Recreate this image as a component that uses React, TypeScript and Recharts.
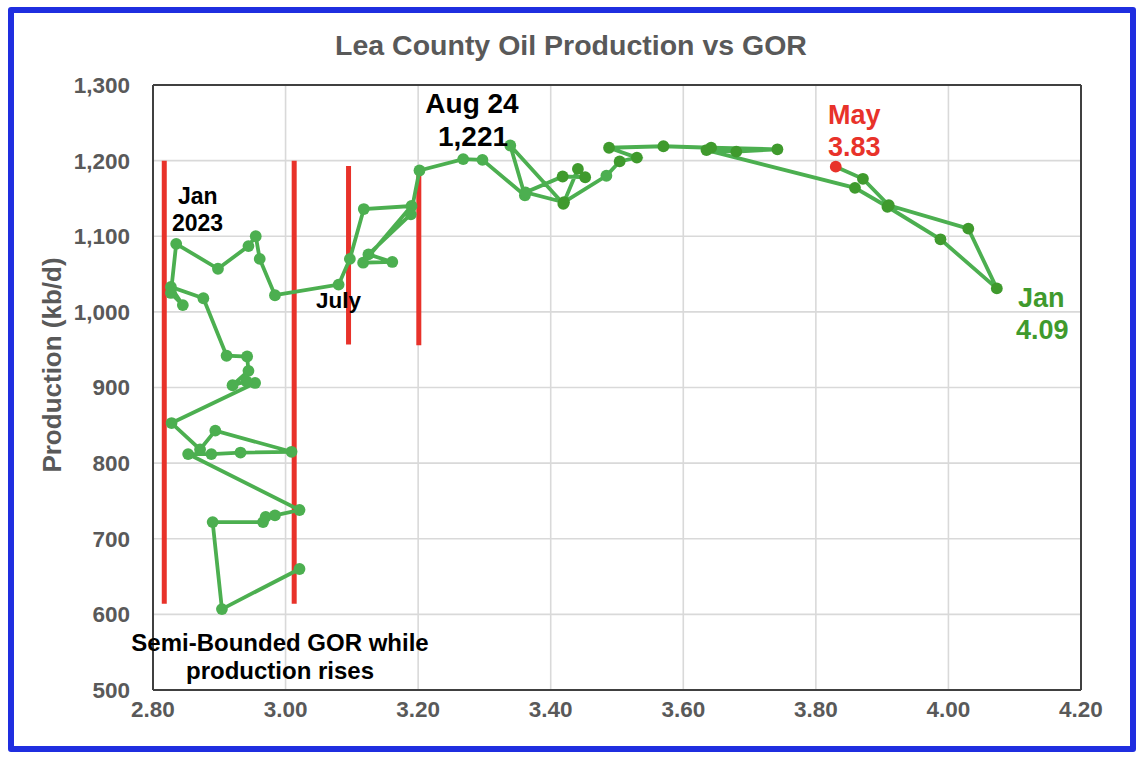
import React from 'react';
import { ComposedChart, Scatter, XAxis, YAxis, CartesianGrid, ReferenceLine } from 'recharts';

// GOR (x) and oil production kb/d (y), in the order the line connects them
const gor = [
  3.021, 2.904, 2.890, 2.966, 2.970, 2.984, 3.021, 2.853, 2.888, 2.932,
  3.009, 2.894, 2.871, 2.828, 2.954, 2.941, 2.920, 2.944, 2.942, 2.911,
  2.876, 2.827, 2.845, 2.827, 2.835, 2.898, 2.944, 2.955, 2.961, 2.984,
  3.080, 3.097, 3.118, 3.190, 3.117, 3.161, 3.125, 3.189, 3.202, 3.268,
  3.297, 3.361, 3.339, 3.419, 3.441, 3.452, 3.418, 3.362, 3.420, 3.484,
  3.504, 3.530, 3.488, 3.570, 3.642, 3.742, 3.680, 3.635, 3.859, 3.908,
  3.988, 4.073, 4.030, 3.910, 3.871, 3.830,
];
const production = [
  660, 607, 722, 722, 729, 731, 738, 812, 812, 814,
  815, 843, 818, 853, 906, 908, 903, 922, 941, 942,
  1018, 1033, 1009, 1025, 1090, 1057, 1087, 1100, 1070, 1022,
  1036, 1070, 1136, 1140, 1065, 1066, 1076, 1129, 1187, 1202,
  1201, 1154, 1220, 1143, 1189, 1178, 1179, 1158, 1145, 1180,
  1199, 1204, 1217, 1219, 1217, 1215, 1212, 1214, 1164, 1139,
  1096, 1031, 1110, 1141, 1176, 1192,
];
// marker group: 0 = earlier months, 1 = recent months, 2 = latest month
const markerGroup = [
  0, 0, 0, 0, 0, 0, 0, 0, 0, 0,
  0, 0, 0, 0, 0, 0, 0, 0, 0, 0,
  0, 0, 0, 0, 0, 0, 0, 0, 0, 0,
  0, 0, 0, 0, 0, 0, 0, 0, 0, 0,
  0, 0, 0, 1, 1, 1, 1, 0, 1, 0,
  1, 1, 1, 1, 1, 1, 1, 1, 1, 1,
  1, 1, 1, 1, 1, 2,
];

const xTicks = [2.8, 3.0, 3.2, 3.4, 3.6, 3.8, 4.0, 4.2];
const yTicks = [500, 600, 700, 800, 900, 1000, 1100, 1200, 1300];

// red "bound" markers
const boundX = [2.817, 3.013, 3.095, 3.201];
const boundTop = [1200, 1200, 1193, 1189];
const boundBottom = [614, 614, 957, 956];

const data = gor.map((x, i) => ({ gor: x, prod: production[i], group: markerGroup[i] }));

const FONT = '"Liberation Sans", Arial, Helvetica, sans-serif';
const LINE_GREEN = '#4caf50';
const DARK_GREEN = '#3f9a2d';
const RED = '#e8322a';
const GRAY = '#595959';
const groupColor = [LINE_GREEN, DARK_GREEN, RED];

const Dot = (props: any) => {
  const { cx, cy, payload } = props;
  if (cx == null || cy == null) return null;
  return <circle cx={cx} cy={cy} r={5.9} fill={groupColor[payload.group]} />;
};

export default function App() {
  const tickStyle = { fill: GRAY, fontSize: 22.5, fontWeight: 700, fontFamily: FONT };
  return (
    <div style={{ position: 'absolute', left: 0, top: 0, width: 1142, height: 758, background: '#fff', overflow: 'hidden' }}>
      <ComposedChart
        width={1142}
        height={758}
        margin={{ top: 85, right: 61, bottom: 28, left: 73 }}
      >
        <CartesianGrid stroke="#d9d9d9" strokeWidth={1.6} />
        <XAxis
          type="number"
          dataKey="gor"
          domain={[2.8, 4.2]}
          ticks={xTicks}
          tickFormatter={(v: number) => v.toFixed(2)}
          axisLine={{ stroke: '#404040', strokeWidth: 2 }}
          tickLine={false}
          tickSize={0}
          tickMargin={11}
          height={40}
          tick={tickStyle}
          allowDataOverflow
        />
        <YAxis
          type="number"
          dataKey="prod"
          domain={[500, 1300]}
          ticks={yTicks}
          tickFormatter={(v: number) => v.toLocaleString('en-US')}
          axisLine={{ stroke: '#404040', strokeWidth: 2 }}
          tickLine={false}
          tickSize={0}
          tickMargin={23}
          width={80}
          tick={tickStyle}
          allowDataOverflow
        />
        <ReferenceLine y={1300} stroke="#404040" strokeWidth={2} />
        <ReferenceLine x={4.2} stroke="#404040" strokeWidth={2} />
        <Scatter
          data={data}
          dataKey="prod"
          line={{ stroke: LINE_GREEN, strokeWidth: 3.8 }}
          lineType="joint"
          lineJointType="linear"
          shape={Dot}
          isAnimationActive={false}
        />
        {boundX.map((x, i) => (
          <ReferenceLine
            key={i}
            segment={[{ x, y: boundTop[i] }, { x, y: boundBottom[i] }]}
            stroke={RED}
            strokeWidth={5}
          />
        ))}
      </ComposedChart>

      <svg width={1142} height={758} style={{ position: 'absolute', left: 0, top: 0, pointerEvents: 'none' }}>
        <g fontFamily={FONT} fontWeight={700}>
          <text x={571} y={55} textAnchor="middle" fontSize={28.5} fill={GRAY}>Lea County Oil Production vs GOR</text>
          <text x={0} y={0} transform="translate(61,365) rotate(-90)" textAnchor="middle" fontSize={26} fill={GRAY}>Production (kb/d)</text>

          <text x={178} y={204} fontSize={23} fill="#000">Jan</text>
          <text x={172} y={231} fontSize={23} fill="#000">2023</text>

          <text x={316} y={308} fontSize={22.5} fill="#000">July</text>

          <text x={472} y={113} textAnchor="middle" fontSize={28} fill="#000">Aug 24</text>
          <text x={473} y={146} textAnchor="middle" fontSize={28} fill="#000">1,221</text>

          <text x={828} y={124} fontSize={27} fill={RED}>May</text>
          <text x={828} y={156} fontSize={27} fill={RED}>3.83</text>

          <text x={1018} y={307} fontSize={27} fill={DARK_GREEN}>Jan</text>
          <text x={1016} y={339} fontSize={27} fill={DARK_GREEN}>4.09</text>

          <text x={280} y={651} textAnchor="middle" fontSize={24} fill="#000">Semi-Bounded GOR while</text>
          <text x={280} y={679} textAnchor="middle" fontSize={24} fill="#000">production rises</text>
        </g>
      </svg>

      <div style={{ position: 'absolute', left: 8, top: 7, width: 1116, height: 733, border: '6px solid #1f2ee0', borderRadius: 3, pointerEvents: 'none' }} />
    </div>
  );
}
